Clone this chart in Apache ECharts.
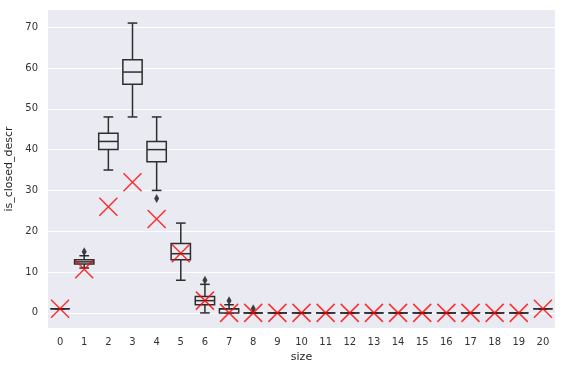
<!DOCTYPE html>
<html>
<head>
<meta charset="utf-8">
<script src="https://cdn.jsdelivr.net/npm/echarts@6/dist/echarts.min.js"></script>
<style>
  html, body { margin: 0; padding: 0; background: #fff; }
  #chart { width: 568px; height: 370px; }
</style>
</head>
<body>
<div id="chart"></div>
<script>
// box stats per size
var sizes = ['0','1','2','3','4','5','6','7','8','9','10','11','12','13','14','15','16','17','18','19','20'];
var whiskerLow  = [1, 11, 35, 48, 30,  8,   0, 0, 0, 0, 0, 0, 0, 0, 0, 0, 0, 0, 0, 0, 1];
var q1          = [1, 12, 40, 56, 37, 13,   2, 0, 0, 0, 0, 0, 0, 0, 0, 0, 0, 0, 0, 0, 1];
var medians     = [1, 12.5, 42, 59, 40, 14.5, 3, 1, 0, 0, 0, 0, 0, 0, 0, 0, 0, 0, 0, 0, 1];
var q3          = [1, 13, 44, 62, 42, 17,   4, 1, 0, 0, 0, 0, 0, 0, 0, 0, 0, 0, 0, 0, 1];
var whiskerHigh = [1, 14, 48, 71, 48, 22,   7, 2, 0, 0, 0, 0, 0, 0, 0, 0, 0, 0, 0, 0, 1];
var outliers = [[1, 15], [4, 28], [6, 8], [7, 3], [8, 1]];
var redMarks = [1, 10.7, 26, 32, 23, 14.6, 3, 0, 0, 0, 0, 0, 0, 0, 0, 0, 0, 0, 0, 0, 1];
var yTicks = [0, 10, 20, 30, 40, 50, 60, 70];

var edge = '#2e2e2e';

function lineStyle() {
    return { stroke: edge, lineWidth: 1.5 };
}

function renderBox(params, api) {
    var x = api.value(0);
    var band = api.size([1, 0])[0];
    var boxW = band * 0.8, capW = band * 0.4;
    var lo = api.coord([x, api.value(1)]);
    var b1 = api.coord([x, api.value(2)]);
    var md = api.coord([x, api.value(3)]);
    var b3 = api.coord([x, api.value(4)]);
    var hi = api.coord([x, api.value(5)]);
    var cx = md[0];
    return {
        type: 'group',
        children: [
            { type: 'line', shape: { x1: cx, y1: b3[1], x2: cx, y2: hi[1] }, style: lineStyle() },
            { type: 'line', shape: { x1: cx, y1: b1[1], x2: cx, y2: lo[1] }, style: lineStyle() },
            { type: 'line', shape: { x1: cx - capW / 2, y1: hi[1], x2: cx + capW / 2, y2: hi[1] }, style: lineStyle() },
            { type: 'line', shape: { x1: cx - capW / 2, y1: lo[1], x2: cx + capW / 2, y2: lo[1] }, style: lineStyle() },
            { type: 'rect', shape: { x: cx - boxW / 2, y: b3[1], width: boxW, height: b1[1] - b3[1] },
              style: { stroke: edge, lineWidth: 1.5, fill: '#EAEAF2' } },
            { type: 'line', shape: { x1: cx - boxW / 2, y1: md[1], x2: cx + boxW / 2, y2: md[1] }, style: lineStyle() }
        ]
    };
}

var boxData = sizes.map(function (s, i) {
    return [i, whiskerLow[i], q1[i], medians[i], q3[i], whiskerHigh[i]];
});

var myChart = echarts.init(document.getElementById('chart'));
var option = {
    animation: false,
    textStyle: { fontFamily: 'DejaVu Sans' },
    grid: {
        left: 48, right: 13, top: 10, bottom: 42,
        outerBoundsMode: 'none',
        show: true, backgroundColor: '#EAEAF2', borderWidth: 0
    },
    xAxis: {
        type: 'category',
        data: sizes,
        boundaryGap: true,
        name: 'size',
        nameLocation: 'middle',
        nameGap: 23,
        nameTextStyle: { fontSize: 11, color: '#262626' },
        axisLine: { show: false },
        axisTick: { show: false },
        axisLabel: { fontSize: 10, color: '#333', margin: 9 },
        splitLine: { show: false }
    },
    yAxis: {
        type: 'value',
        min: -3.7,
        max: 74.2,
        name: 'is_closed_descr',
        nameLocation: 'middle',
        nameGap: 29,
        nameTextStyle: { fontSize: 11, color: '#262626' },
        axisLine: { show: false },
        axisTick: { show: false, customValues: yTicks },
        axisLabel: { fontSize: 10, color: '#333', margin: 10, customValues: yTicks },
        splitLine: { show: true, lineStyle: { color: '#fff', width: 1 } }
    },
    series: [
        {
            type: 'custom',
            renderItem: renderBox,
            encode: { x: 0, y: [1, 2, 3, 4, 5] },
            data: boxData,
            z: 2
        },
        {
            type: 'scatter',
            data: outliers,
            symbol: 'diamond',
            symbolSize: [5, 9],
            itemStyle: { color: '#111' },
            z: 3
        },
        {
            type: 'scatter',
            data: redMarks,
            symbol: 'path://M0,0L10,10M0,10L10,0',
            symbolSize: 18,
            itemStyle: { color: 'rgba(0,0,0,0)', borderColor: '#ff0000', borderWidth: 1.5 },
            z: 4
        }
    ]
};
myChart.setOption(option);
window.addEventListener('resize', function () {
    myChart.resize();
});
</script>
</body>
</html>
